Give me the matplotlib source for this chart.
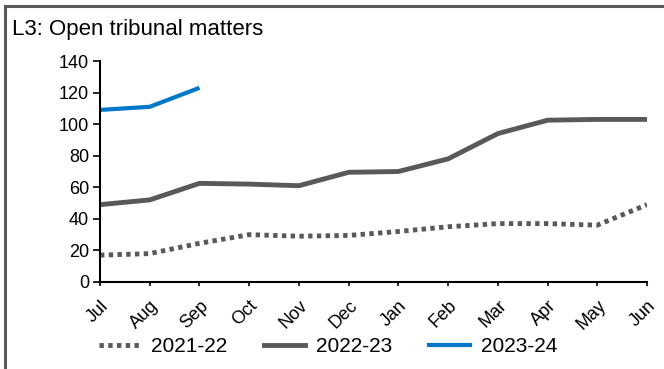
import matplotlib
matplotlib.use("Agg")
import matplotlib.pyplot as plt
from matplotlib.patches import Rectangle
from matplotlib.lines import Line2D
from matplotlib.transforms import ScaledTranslation

months = ["Jul", "Aug", "Sep", "Oct", "Nov", "Dec", "Jan", "Feb", "Mar", "Apr", "May", "Jun"]
s2122 = [17, 18, 24.5, 30, 29, 29.5, 32, 35, 37, 37, 36, 49]
s2223 = [49, 52, 62.5, 62, 61, 69.5, 70, 78, 94, 102.5, 103, 103]
s2324 = [109, 111, 123]
yticks = [0, 20, 40, 60, 80, 100, 120, 140]

plt.rcParams['font.family'] = ['Liberation Sans', 'DejaVu Sans']
W, H = 664, 369
fig = plt.figure(figsize=(W/100, H/100), dpi=100)
ax = fig.add_axes([100/W, 1-282/H, 547/W, 221/H])

gray = "#58595B"
blue = "#0077C8"
x = list(range(len(months)))
ax.plot(x, s2122, color=gray, lw=3.5, linestyle=(0, (0.9, 0.9)), label="2021-22")
ax.plot(x, s2223, color=gray, lw=3.5, label="2022-23", solid_capstyle='butt')
ax.plot(x[:len(s2324)], s2324, color=blue, lw=3.0, label="2023-24", solid_capstyle='butt')

ax.set_xlim(0, 11)
ax.set_ylim(0, 140)
ax.set_yticks(yticks)
ax.set_xticks(x)
ax.set_xticklabels(months, rotation=45, ha='right', va='top', rotation_mode='anchor', fontsize=13)
offset = ScaledTranslation(3/100, 0, fig.dpi_scale_trans)
for lbl in ax.get_xticklabels():
    lbl.set_transform(lbl.get_transform() + offset)
ax.tick_params(axis='y', labelsize=13, length=5, width=1.2, pad=3)
ax.tick_params(axis='x', length=3, width=1.2, pad=8)
for s in ['top', 'right']:
    ax.spines[s].set_visible(False)
for s in ['left', 'bottom']:
    ax.spines[s].set_linewidth(1.5)
    ax.spines[s].set_color('black')

fig.text(12/W, 1-30/H, "L3: Open tribunal matters", fontsize=16, va='center', ha='left')

handles = [Line2D([], [], color=gray, lw=3.5, linestyle=(0, (0.9, 0.9))),
           Line2D([], [], color=gray, lw=3.5),
           Line2D([], [], color=blue, lw=3.0)]
fig.legend(handles, ["2021-22", "2022-23", "2023-24"], loc='center', bbox_to_anchor=(328/W, 1-347/H),
           ncol=3, frameon=False, fontsize=15, handlelength=2.0, columnspacing=1.75, handletextpad=0.5)

fig.patches.append(Rectangle((5/W, -0.1), 1.2, 1 - 6/H + 0.1, transform=fig.transFigure,
                             fill=False, edgecolor="#595959", lw=2.2))
fig.savefig("out.png", dpi=100)
